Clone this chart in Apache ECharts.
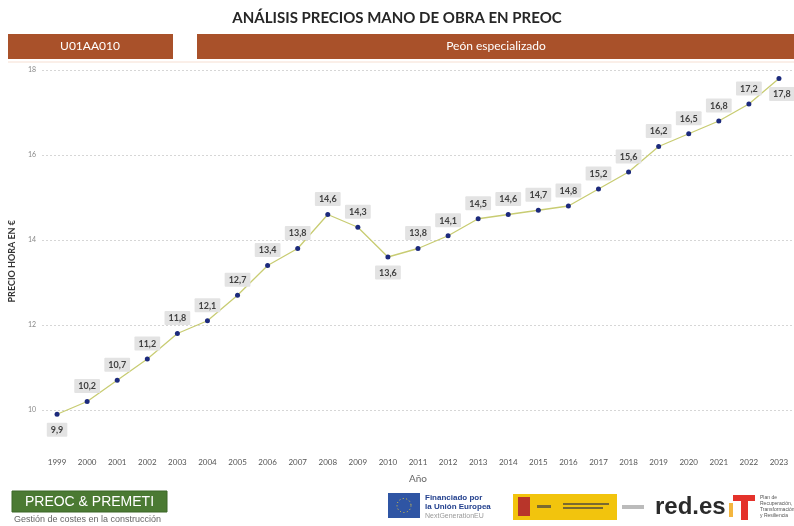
<!DOCTYPE html>
<html>
<head>
<meta charset="utf-8">
<script src="https://cdn.jsdelivr.net/npm/echarts@6/dist/echarts.min.js"></script>
<style>
  html, body { margin: 0; padding: 0; background: #fff; }
  #chart { width: 794px; height: 526px; }
</style>
</head>
<body>
<div id="chart"></div>
<script>
// datos
var years = ['1999','2000','2001','2002','2003','2004','2005','2006','2007','2008','2009','2010','2011','2012','2013','2014','2015','2016','2017','2018','2019','2020','2021','2022','2023'];
var prices = [9.9, 10.2, 10.7, 11.2, 11.8, 12.1, 12.7, 13.4, 13.8, 14.6, 14.3, 13.6, 13.8, 14.1, 14.5, 14.6, 14.7, 14.8, 15.2, 15.6, 16.2, 16.5, 16.8, 17.2, 17.8];
var codigo = 'U01AA010';
var descripcion = 'Peón especializado';
var titulo = 'ANÁLISIS PRECIOS MANO DE OBRA EN PREOC';

var chart = echarts.init(document.getElementById('chart'));

var labelBox = {
    show: true,
    position: 'top',
    distance: 6,
    formatter: function (p) { return p.value.toFixed(1).replace('.', ','); },
    backgroundColor: '#e3e3e3',
    padding: [3, 4, 2, 4],
    borderRadius: 1,
    color: '#404040',
    fontSize: 9,
    fontWeight: 'bold',
    fontFamily: 'Lato'
};

// etiquetas que van debajo del punto
var seriesData = prices.map(function (v, i) {
    var y = years[i];
    if (y === '1999' || y === '2010') {
        return {value: v, label: {position: 'bottom', distance: 6}};
    }
    if (y === '2023') {
        return {value: v, label: {position: 'bottom', distance: 6, offset: [3, 0]}};
    }
    return v;
});

var option = {
    animation: false,
    backgroundColor: '#fff',
    grid: {left: 42, right: 0, top: 70, bottom: 73.5},
    xAxis: {
        type: 'category',
        data: years,
        boundaryGap: true,
        name: 'Año',
        nameLocation: 'middle',
        nameGap: 21,
        nameTextStyle: {color: '#666', fontSize: 10, fontFamily: 'Lato'},
        axisLine: {show: false},
        axisTick: {show: false},
        axisLabel: {color: '#555', fontSize: 8, margin: 6, fontFamily: 'Lato'}
    },
    yAxis: {
        type: 'value',
        min: 9,
        max: 18,
        interval: 1,
        name: 'PRECIO HORA EN €',
        nameLocation: 'middle',
        nameGap: 18,
        nameTextStyle: {color: '#333', fontSize: 9, fontWeight: 'bold', fontFamily: 'Lato'},
        axisLine: {show: false},
        axisTick: {show: false},
        axisLabel: {
            color: '#888', fontSize: 7, margin: 6, fontFamily: 'Lato',
            formatter: function (v) { return v % 2 === 0 ? String(v) : ''; }
        },
        splitLine: {
            lineStyle: {color: ['rgba(0,0,0,0)', '#d6d6d6'], type: [2, 2], width: 1}
        }
    },
    series: [{
        type: 'line',
        data: seriesData,
        symbol: 'circle',
        symbolSize: 5,
        itemStyle: {color: '#1c2a7c'},
        lineStyle: {color: '#c8cc72', width: 1.3},
        label: labelBox
    }],
    graphic: [
        {type: 'text', left: 'center', top: 11, style: {text: titulo, fill: '#262626', font: 'bold 15px Lato'}},
        {type: 'rect', shape: {x: 8, y: 34, width: 165, height: 25}, style: {fill: '#a9512a'}},
        {type: 'text', x: 90, y: 46.5, style: {text: codigo, fill: '#fff', font: '12px Lato', align: 'center', verticalAlign: 'middle'}},
        {type: 'rect', shape: {x: 197, y: 34, width: 597, height: 25}, style: {fill: '#a9512a'}},
        {type: 'text', x: 496, y: 46.5, style: {text: descripcion, fill: '#fff', font: '12px Lato', align: 'center', verticalAlign: 'middle'}},
        {type: 'line', shape: {x1: 8, y1: 62, x2: 794, y2: 62}, style: {stroke: '#f6dfd2', lineWidth: 1}},
        // logo PREOC
        {type: 'rect', shape: {x: 12, y: 491, width: 155, height: 21}, style: {fill: '#4b7a33', stroke: '#3c6628'}},
        {type: 'text', x: 89.5, y: 502, style: {text: 'PREOC & PREMETI', fill: '#fff', font: '14px Liberation Sans', align: 'center', verticalAlign: 'middle'}},
        {type: 'text', x: 14, y: 519.5, style: {text: 'Gestión de costes en la construcción', fill: '#666', font: '9px Liberation Sans', verticalAlign: 'middle'}},
        // logo UE
        {type: 'rect', shape: {x: 388, y: 493, width: 32, height: 25}, style: {fill: '#2f55a4'}},
        {type: 'circle', shape: {cx: 404, cy: 505.5, r: 7}, style: {fill: 'none', stroke: '#f3d33a', lineWidth: 1, lineDash: [1, 2.5]}},
        {type: 'text', x: 425, y: 498, style: {text: 'Financiado por', fill: '#23408e', font: 'bold 8px Liberation Sans', verticalAlign: 'middle'}},
        {type: 'text', x: 425, y: 507, style: {text: 'la Unión Europea', fill: '#23408e', font: 'bold 8px Liberation Sans', verticalAlign: 'middle'}},
        {type: 'text', x: 425, y: 516, style: {text: 'NextGenerationEU', fill: '#999', font: '7px Liberation Sans', verticalAlign: 'middle'}},
        // logo gobierno
        {type: 'rect', shape: {x: 513, y: 494, width: 104, height: 26}, style: {fill: '#f2c40d'}},
        {type: 'rect', shape: {x: 518, y: 497, width: 12, height: 19}, style: {fill: '#b8352a'}},
        {type: 'rect', shape: {x: 537, y: 505, width: 14, height: 3}, style: {fill: '#7a6a30'}},
        {type: 'rect', shape: {x: 563, y: 503, width: 46, height: 2}, style: {fill: '#7a6a30'}},
        {type: 'rect', shape: {x: 563, y: 507, width: 40, height: 2}, style: {fill: '#7a6a30'}},
        {type: 'rect', shape: {x: 622, y: 505, width: 22, height: 4}, style: {fill: '#bbb'}},
        // red.es
        {type: 'text', x: 655, y: 507, style: {text: 'red.es', fill: '#2a2a2a', font: 'bold 24px Liberation Sans', verticalAlign: 'middle'}},
        // plan de recuperacion
        {type: 'rect', shape: {x: 733, y: 495, width: 22, height: 6}, style: {fill: '#e4322b'}},
        {type: 'rect', shape: {x: 741, y: 495, width: 7, height: 25}, style: {fill: '#e4322b'}},
        {type: 'rect', shape: {x: 729, y: 503, width: 4, height: 14}, style: {fill: '#f4b63f'}},
        {type: 'text', x: 760, y: 507, style: {text: 'Plan de\nRecuperación,\nTransformación\ny Resiliencia', fill: '#555', font: '5px Liberation Sans', verticalAlign: 'middle', lineHeight: 6}}
    ]
};

chart.setOption(option);
</script>
</body>
</html>
